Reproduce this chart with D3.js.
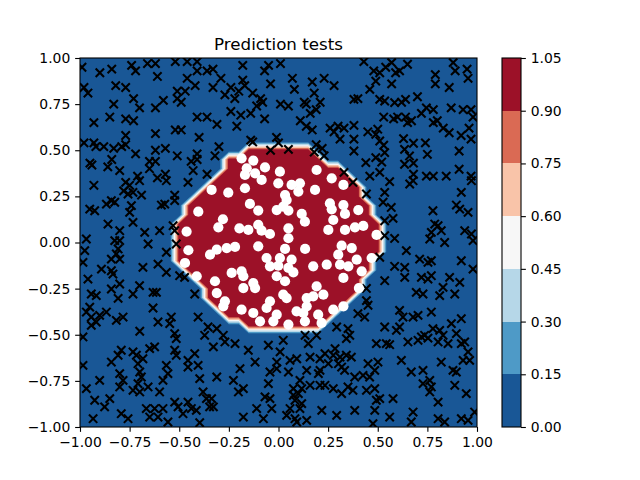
<!DOCTYPE html>
<html>
<head>
<meta charset="utf-8">
<script src="https://cdn.jsdelivr.net/npm/d3@7"></script>
<style>
  body { margin: 0; background: #fff; }
  text { font-family: "DejaVu Sans", sans-serif; }
</style>
</head>
<body>
<div id="chart"></div>
<script>
// contour levels and colorbar ticks
var levels = [0, 0.15, 0.3, 0.45, 0.6, 0.75, 0.9, 1.05];
var axisTicks = [-1, -0.75, -0.5, -0.25, 0, 0.25, 0.5, 0.75, 1];

// outline of the predicted class-1 region
var boundary = [
  [-0.17, 0.51], [0.16, 0.51], [0.19, 0.475], [0.24, 0.45], [0.32, 0.395], [0.39, 0.34],
  [0.42, 0.285], [0.46, 0.23], [0.485, 0.176], [0.51, 0.12], [0.51, -0.07], [0.495, -0.11],
  [0.46, -0.15], [0.445, -0.18], [0.41, -0.236], [0.385, -0.29], [0.345, -0.344],
  [0.295, -0.393], [0.244, -0.436], [0.144, -0.474], [0.13, -0.49], [-0.14, -0.49],
  [-0.144, -0.474], [-0.21, -0.436], [-0.26, -0.393], [-0.31, -0.344], [-0.36, -0.29],
  [-0.41, -0.236], [-0.446, -0.182], [-0.481, -0.149], [-0.506, -0.111], [-0.506, 0.12],
  [-0.471, 0.176], [-0.446, 0.23], [-0.395, 0.285], [-0.345, 0.34], [-0.295, 0.393],
  [-0.254, 0.447], [-0.219, 0.474]
];

// test points predicted as class 0 (drawn as x)
var crosses = [
  [-0.99,0.95],[-0.90,0.92],[-0.84,0.94],[-0.74,0.96],[-0.72,0.93],[-0.66,0.97],[-0.62,0.97],[-0.61,0.90],
  [-0.52,0.98],[-0.46,0.98],[-0.41,0.98],[-0.41,0.93],[-0.36,0.93],[-0.46,0.89],[-0.42,0.85],[-0.98,0.84],
  [-0.96,0.81],[-0.82,0.85],[-0.77,0.84],[-0.51,0.82],[-0.47,0.82],[-0.51,0.78],[-0.49,0.76],[-0.83,0.75],
  [-0.73,0.78],[-0.70,0.73],[-0.62,0.73],[-0.58,0.77],[-0.93,0.65],[-0.85,0.68],[-0.77,0.67],[-0.73,0.66],
  [-0.41,0.68],[-0.36,0.68],[-0.52,0.61],[-0.49,0.61],[-0.62,0.59],[-0.77,0.58],[-0.40,0.57],[-0.98,0.54],
  [-0.93,0.54],[-0.92,0.52],[-0.88,0.52],[-0.83,0.51],[-0.79,0.52],[-0.77,0.53],[-0.72,0.48],[-0.62,0.50],
  [-0.57,0.51],[-0.51,0.47],[-0.41,0.48],[-0.84,0.45],[-0.95,0.43],[-0.94,0.42],[-0.65,0.44],[-0.62,0.44],
  [-0.44,0.44],[-0.41,0.45],[-0.86,0.41],[-0.80,0.39],[-0.65,0.40],[-0.43,0.39],[-0.36,0.37],[-0.71,0.36],
  [-0.61,0.35],[-0.57,0.37],
  [-0.33,0.94],[-0.29,0.89],[-0.33,0.84],[-0.18,0.96],[-0.07,0.93],[-0.05,0.96],[0.01,0.97],[0.07,0.89],
  [0.17,0.87],[0.23,0.89],[0.28,0.85],[0.08,0.83],[-0.04,0.86],[-0.18,0.88],[-0.17,0.85],[-0.24,0.84],
  [-0.20,0.82],[-0.27,0.80],[-0.22,0.78],[-0.13,0.81],[-0.09,0.78],[-0.08,0.76],[-0.11,0.74],[-0.14,0.70],
  [-0.24,0.71],[-0.19,0.69],[0.01,0.75],[0.05,0.74],[0.13,0.76],[0.14,0.75],[0.18,0.81],[0.21,0.76],
  [0.16,0.70],[0.19,0.72],[0.11,0.66],[0.14,0.63],[0.17,0.61],[-0.07,0.67],[-0.21,0.63],[-0.31,0.64],
  [0.26,0.62],[0.28,0.60],[0.30,0.63],[0.31,0.56],[-0.30,0.52],[-0.32,0.47],[-0.14,0.555],[-0.13,0.545],
  [-0.01,0.57],[0.0,0.54],[-0.04,0.50],[0.05,0.505],[0.19,0.53],[0.22,0.51],[0.18,0.49],[0.23,0.47],
  [0.33,0.38],
  [0.43,0.98],[0.48,0.93],[0.51,0.92],[0.54,0.95],[0.57,0.975],[0.59,0.92],[0.61,0.93],[0.65,0.966],
  [0.79,0.91],[0.79,0.86],[0.86,0.84],[0.88,0.975],[0.89,0.93],[0.95,0.94],[0.955,0.89],[0.49,0.875],
  [0.46,0.83],[0.57,0.86],[0.70,0.79],[0.38,0.776],[0.40,0.78],[0.51,0.776],[0.535,0.767],[0.585,0.758],
  [0.62,0.76],[0.64,0.776],[0.745,0.73],[0.78,0.72],[0.72,0.70],[0.87,0.73],[0.93,0.72],[0.97,0.72],
  [0.98,0.68],[0.53,0.68],[0.58,0.67],[0.60,0.68],[0.64,0.68],[0.65,0.65],[0.67,0.66],[0.78,0.65],
  [0.80,0.66],[0.83,0.62],[0.86,0.595],[0.92,0.58],[0.96,0.62],[0.97,0.56],[0.33,0.62],[0.38,0.635],
  [0.38,0.56],[0.45,0.60],[0.50,0.614],[0.49,0.586],[0.51,0.55],[0.53,0.527],[0.63,0.563],[0.68,0.538],
  [0.74,0.54],[0.38,0.496],[0.535,0.487],[0.635,0.505],[0.66,0.469],[0.75,0.478],[0.91,0.496],[0.49,0.46],
  [0.52,0.436],[0.44,0.433],[0.635,0.424],[0.68,0.43],[0.91,0.397],[0.51,0.38],[0.46,0.36],[0.68,0.37],
  [0.745,0.36],[0.78,0.36],[0.845,0.36],[0.97,0.36],
  [-0.93,0.31],[-0.77,0.326],[-0.75,0.31],[-0.70,0.335],[-0.565,0.335],[-0.456,0.326],[-0.78,0.28],
  [-0.758,0.263],[-0.733,0.272],[-0.69,0.257],[-0.523,0.257],[-0.523,0.227],[-0.842,0.227],[-0.825,0.218],
  [-0.867,0.208],[-0.951,0.181],[-0.926,0.172],[-0.741,0.2],[-0.75,0.163],[-0.59,0.203],[-0.573,0.208],
  [-0.733,0.109],[-0.859,0.1],[-0.80,0.064],[-0.674,0.055],[-0.599,0.064],[-0.531,0.091],[-0.523,0.064],
  [-0.968,0.019],[-0.825,0.01],[-0.80,0.01],[-0.657,-0.008],[-0.515,-0.008],[-0.976,-0.044],[-0.808,-0.035],
  [-0.817,-0.062],[-0.842,-0.09],[-0.80,-0.09],[-0.565,-0.053],[-0.985,-0.108],[-0.892,-0.144],
  [-0.842,-0.153],[-0.834,-0.171],[-0.683,-0.135],[-0.607,-0.117],[-0.565,-0.162],[-0.498,-0.18],
  [-0.473,-0.189],[-0.96,-0.198],[-0.842,-0.252],[-0.80,-0.225],[-0.70,-0.234],[-0.943,-0.279],
  [-0.918,-0.288],[-0.808,-0.303],[-0.733,-0.279],[-0.632,-0.27],[-0.615,-0.27],[-0.422,-0.279],
  [0.375,0.326],[0.56,0.33],[0.661,0.317],[0.678,0.335],[0.972,0.335],[0.443,0.263],[0.535,0.272],
  [0.527,0.218],[0.568,0.19],[0.921,0.272],[0.896,0.203],[0.913,0.181],[0.955,0.163],[0.778,0.172],
  [0.535,0.118],[0.577,0.131],[0.787,0.10],[0.804,0.091],[0.77,0.055],[0.82,0.064],[0.762,0.019],
  [0.938,0.064],[0.972,0.046],[0.98,0.01],[0.535,0.037],[0.585,0.022],[0.837,0.0],[0.644,-0.044],
  [0.51,-0.08],[0.711,-0.09],[0.753,-0.108],[0.77,-0.099],[0.921,-0.099],[0.98,-0.144],[0.585,-0.129],
  [0.636,-0.135],[0.636,-0.189],[0.535,-0.207],[0.72,-0.189],[0.753,-0.198],[0.77,-0.18],[0.862,-0.189],
  [0.913,-0.216],[0.829,-0.243],[0.443,-0.249],[0.694,-0.27],[0.728,-0.279],[0.812,-0.288],[0.888,-0.279],
  [0.443,-0.315],
  [-0.951,-0.35],[-0.968,-0.377],[-0.943,-0.404],[-0.901,-0.395],[-0.918,-0.431],[-0.943,-0.449],
  [-0.867,-0.377],[-0.817,-0.422],[-0.783,-0.404],[-0.632,-0.355],[-0.607,-0.431],[-0.54,-0.404],
  [-0.548,-0.44],[-0.405,-0.404],[-0.355,-0.458],[-0.372,-0.503],[-0.699,-0.481],[-0.523,-0.494],
  [-0.515,-0.521],[-0.985,-0.512],[-0.792,-0.584],[-0.808,-0.611],[-0.842,-0.648],[-0.733,-0.593],
  [-0.716,-0.611],[-0.683,-0.63],[-0.649,-0.575],[-0.624,-0.566],[-0.523,-0.584],[-0.515,-0.611],
  [-0.422,-0.602],[-0.456,-0.639],[-0.456,-0.675],[-0.405,-0.666],[-0.397,-0.738],[-0.708,-0.657],
  [-0.565,-0.666],[-0.985,-0.666],[-0.80,-0.711],[-0.699,-0.702],[-0.691,-0.729],[-0.783,-0.747],
  [-0.80,-0.783],[-0.708,-0.765],[-0.557,-0.711],[-0.582,-0.747],[-0.901,-0.747],[-0.968,-0.792],
  [-0.733,-0.801],[-0.699,-0.81],[-0.657,-0.783],[-0.599,-0.81],[-0.38,-0.81],[-0.363,-0.846],
  [-0.926,-0.855],[-0.85,-0.846],[-0.876,-0.891],[-0.523,-0.865],[-0.456,-0.865],[-0.506,-0.891],
  [-0.481,-0.928],[-0.439,-0.9],[-0.414,-0.91],[-0.347,-0.891],[-0.666,-0.9],[-0.624,-0.9],[-0.582,-0.9],
  [-0.649,-0.946],[-0.607,-0.946],[-0.792,-0.928],[-0.758,-0.955],[-0.934,-0.955],[-0.557,-0.973],
  [-0.397,-0.977],
  [-0.311,-0.467],[-0.278,-0.503],[-0.27,-0.539],[-0.219,-0.548],[-0.328,-0.566],[-0.152,-0.584],
  [-0.118,-0.648],[-0.051,-0.557],[0.008,-0.593],[0.024,-0.53],[0.134,-0.503],[0.15,-0.548],[0.192,-0.503],
  [0.293,-0.458],[0.285,-0.575],[0.31,-0.621],[-0.009,-0.648],[0.058,-0.639],[0.092,-0.63],[0.159,-0.621],
  [0.209,-0.63],[0.234,-0.602],[0.251,-0.657],[0.276,-0.611],[0.302,-0.657],[0.318,-0.675],[-0.194,-0.684],
  [-0.043,-0.702],[-0.009,-0.684],[0.05,-0.702],[0.142,-0.693],[0.201,-0.711],[0.209,-0.693],[-0.311,-0.729],
  [-0.227,-0.747],[-0.051,-0.765],[0.108,-0.747],[0.075,-0.792],[0.117,-0.792],[0.10,-0.819],[0.159,-0.774],
  [0.209,-0.774],[0.234,-0.774],[0.276,-0.792],[0.318,-0.819],[-0.177,-0.792],[-0.202,-0.81],[-0.068,-0.837],
  [-0.043,-0.846],[0.075,-0.828],[0.083,-0.855],[0.117,-0.873],[-0.337,-0.846],[-0.328,-0.891],[-0.11,-0.9],
  [-0.034,-0.9],[0.058,-0.9],[0.108,-0.9],[0.218,-0.91],[-0.177,-0.946],[-0.076,-0.955],[0.041,-0.937],
  [0.083,-0.955],[0.092,-0.973],[0.142,-0.964],[0.293,-0.937],
  [0.451,-0.34],[0.40,-0.386],[0.434,-0.404],[0.61,-0.368],[0.627,-0.404],[0.678,-0.404],[0.703,-0.395],
  [0.77,-0.377],[0.535,-0.458],[0.594,-0.476],[0.61,-0.458],[0.35,-0.467],[0.359,-0.503],[0.342,-0.521],
  [0.493,-0.548],[0.543,-0.548],[0.56,-0.554],[0.652,-0.539],[0.703,-0.53],[0.72,-0.512],[0.736,-0.503],
  [0.753,-0.518],[0.778,-0.467],[0.812,-0.476],[0.829,-0.503],[0.804,-0.539],[0.854,-0.548],[0.871,-0.44],
  [0.896,-0.494],[0.921,-0.413],[0.921,-0.548],[0.938,-0.539],[0.955,-0.593],[0.93,-0.639],[0.963,-0.639],
  [0.342,-0.611],[0.367,-0.621],[0.451,-0.657],[0.501,-0.648],[0.619,-0.639],[0.82,-0.648],[0.485,-0.693],
  [0.333,-0.693],[0.384,-0.729],[0.426,-0.72],[0.459,-0.729],[0.669,-0.702],[0.728,-0.693],[0.879,-0.693],
  [0.896,-0.702],[0.888,-0.774],[0.946,-0.819],[0.762,-0.747],[0.77,-0.783],[0.728,-0.765],[0.35,-0.783],
  [0.375,-0.801],[0.443,-0.801],[0.485,-0.792],[0.493,-0.855],[0.51,-0.846],[0.577,-0.846],[0.804,-0.865],
  [0.762,-0.81],[0.384,-0.91],[0.485,-0.91],[0.678,-0.919],[0.669,-0.973],[0.56,-0.946],[0.804,-0.955],
  [0.837,-0.973],[0.921,-0.955],[0.955,-0.964],[0.988,-0.919],[0.476,-0.982]
];

// test points predicted as class 1 (drawn as white dots)
var circles = [
  [-0.186,0.456],[-0.127,0.444],[-0.068,0.407],[-0.16,0.402],[-0.169,0.366],[-0.118,0.375],[-0.085,0.339],
  [0.007,0.384],[-0.001,0.321],[0.066,0.312],[0.108,0.321],[0.10,0.276],[0.033,0.257],[0.041,0.23],
  [0.192,0.393],[0.268,0.348],[0.327,0.312],[0.184,0.285],[-0.253,0.27],[-0.337,0.285],[-0.169,0.294],
  [-0.144,0.209],[-0.102,0.173],[-0.009,0.176],[0.024,0.194],[0.05,0.173],[0.117,0.155],[0.133,0.113],
  [0.259,0.212],[0.268,0.18],[0.327,0.203],[0.335,0.155],[0.402,0.176],[0.276,0.122],[0.385,0.082],
  [-0.28,0.126],[-0.303,0.082],[-0.197,0.077],[-0.152,0.068],[-0.102,0.095],[-0.085,0.064],[-0.043,0.046],
  [0.05,0.077],[0.05,0.023],[0.251,0.068],[0.335,0.068],[0.427,0.09],[-0.404,0.167],[-0.463,0.059],
  [0.494,0.041],
  [-0.454,-0.042],[-0.345,-0.066],[-0.311,-0.039],[-0.261,-0.03],[-0.219,-0.024],[-0.102,-0.021],
  [0.033,-0.035],[0.134,-0.035],[0.318,-0.017],[0.369,-0.03],[0.301,-0.066],[0.394,-0.093],[0.469,-0.084],
  [0.175,-0.129],[0.243,-0.12],[0.31,-0.12],[0.352,-0.129],[0.419,-0.156],[-0.471,-0.111],[-0.412,-0.183],
  [-0.32,-0.21],[-0.236,-0.165],[-0.186,-0.156],[-0.177,-0.183],[-0.06,-0.084],[0.007,-0.084],
  [0.066,-0.093],[-0.043,-0.129],[-0.001,-0.126],[0.05,-0.138],[0.075,-0.162],[-0.009,-0.183],
  [0.033,-0.21],[-0.177,-0.247],[-0.127,-0.22],[-0.118,-0.247],[-0.311,-0.274],[-0.27,-0.319],
  [-0.278,-0.346],[-0.186,-0.364],[-0.127,-0.382],[-0.093,-0.427],[-0.043,-0.319],[0.024,-0.283],
  [0.041,-0.301],[-0.06,-0.355],[-0.009,-0.391],[-0.026,-0.427],[0.05,-0.445],[0.091,-0.373],
  [0.142,-0.346],[0.142,-0.301],[0.192,-0.238],[0.226,-0.283],[0.175,-0.292],[0.125,-0.382],[0.20,-0.391],
  [0.133,-0.427],[0.217,-0.436],[0.276,-0.364],[0.327,-0.346],[0.327,-0.192],[0.405,-0.247]
];

// RdBu_r sampled at the band midpoints
var bandColors = ["#195796", "#4e9ac7", "#b6d7e8", "#f7f7f7", "#f9c4a9", "#da6a54", "#9c1128"];

var width = 640, height = 480;
var plot = { left: 80, right: 477, top: 58, bottom: 427 };
var bar = { left: 502, right: 521 };

var svg = d3.select('#chart').append('svg')
  .attr('width', width)
  .attr('height', height)
  .style('background', '#fff');

var x = d3.scaleLinear().domain([-1, 1]).range([plot.left, plot.right]);
var y = d3.scaleLinear().domain([-1, 1]).range([plot.bottom, plot.top]);

// prediction grid built from the boundary outline
var step = 0.05, n = 41;
var grid = new Array(n * n);
for (var j = 0; j < n; j++) {
  for (var i = 0; i < n; i++) {
    grid[j * n + i] = d3.polygonContains(boundary, [-1 + i * step, -1 + j * step]) ? 1 : 0;
  }
}

var contours = d3.contours().size([n, n]).thresholds(levels.slice(0, levels.length - 1))(grid);

var toPlot = d3.geoTransform({
  point: function (gx, gy) {
    this.stream.point(x(-1 + (gx - 0.5) * step), y(-1 + (gy - 0.5) * step));
  }
});
var path = d3.geoPath(toPlot);

svg.append('clipPath').attr('id', 'plot-clip')
  .append('rect')
  .attr('x', plot.left).attr('y', plot.top)
  .attr('width', plot.right - plot.left).attr('height', plot.bottom - plot.top);

var field = svg.append('g').attr('clip-path', 'url(#plot-clip)');
field.append('rect')
  .attr('x', plot.left).attr('y', plot.top)
  .attr('width', plot.right - plot.left).attr('height', plot.bottom - plot.top)
  .attr('fill', bandColors[0]);

field.selectAll('path.band')
  .data(contours)
  .enter().append('path')
    .attr('class', 'band')
    .attr('d', path)
    .attr('fill', function (d, k) { return bandColors[k]; });

// markers
var half = 4.17;
field.selectAll('path.cross')
  .data(crosses)
  .enter().append('path')
    .attr('class', 'cross')
    .attr('transform', function (d) { return 'translate(' + x(d[0]) + ',' + y(d[1]) + ')'; })
    .attr('d', 'M' + (-half) + ',' + (-half) + 'L' + half + ',' + half + 'M' + (-half) + ',' + half + 'L' + half + ',' + (-half))
    .attr('stroke', '#000')
    .attr('stroke-width', 2.08)
    .attr('fill', 'none');

field.selectAll('circle.dot')
  .data(circles)
  .enter().append('circle')
    .attr('class', 'dot')
    .attr('cx', function (d) { return x(d[0]); })
    .attr('cy', function (d) { return y(d[1]); })
    .attr('r', 5.1)
    .attr('fill', '#fff');

// axes
var fmt = d3.format('.2f');
var tickLen = 4.86, tickPad = 4.86, fontSize = '13.9px';

var xAxis = svg.append('g')
  .attr('transform', 'translate(0,' + plot.bottom + ')')
  .call(d3.axisBottom(x).tickValues(axisTicks).tickFormat(fmt).tickSizeInner(tickLen).tickSizeOuter(0).tickPadding(tickPad));
var yAxis = svg.append('g')
  .attr('transform', 'translate(' + plot.left + ',0)')
  .call(d3.axisLeft(y).tickValues(axisTicks).tickFormat(fmt).tickSizeInner(tickLen).tickSizeOuter(0).tickPadding(tickPad));

[xAxis, yAxis].forEach(function (g) {
  g.select('.domain').remove();
  g.selectAll('line').attr('stroke', '#000').attr('stroke-width', 1.1);
  g.selectAll('text').attr('fill', '#000').style('font-size', fontSize).style('font-family', '"DejaVu Sans", sans-serif');
});

svg.append('rect')
  .attr('x', plot.left).attr('y', plot.top)
  .attr('width', plot.right - plot.left).attr('height', plot.bottom - plot.top)
  .attr('fill', 'none').attr('stroke', '#000').attr('stroke-width', 1.1);

// title
svg.append('text')
  .attr('x', (plot.left + plot.right) / 2)
  .attr('y', plot.top - 8.5)
  .attr('text-anchor', 'middle')
  .style('font-size', '16.7px')
  .attr('fill', '#000')
  .text('Prediction tests');

// colorbar
var cb = d3.scaleLinear().domain([levels[0], levels[levels.length - 1]]).range([plot.bottom, plot.top]);
svg.selectAll('rect.cb')
  .data(bandColors)
  .enter().append('rect')
    .attr('class', 'cb')
    .attr('x', bar.left)
    .attr('width', bar.right - bar.left)
    .attr('y', function (d, k) { return cb(levels[k + 1]); })
    .attr('height', function (d, k) { return cb(levels[k]) - cb(levels[k + 1]); })
    .attr('fill', function (d) { return d; })
    .attr('shape-rendering', 'crispEdges');

var cbAxis = svg.append('g')
  .attr('transform', 'translate(' + bar.right + ',0)')
  .call(d3.axisRight(cb).tickValues(levels).tickFormat(fmt).tickSizeInner(tickLen).tickSizeOuter(0).tickPadding(tickPad));
cbAxis.select('.domain').remove();
cbAxis.selectAll('line').attr('stroke', '#000').attr('stroke-width', 1.1);
cbAxis.selectAll('text').attr('fill', '#000').style('font-size', fontSize).style('font-family', '"DejaVu Sans", sans-serif');

svg.append('rect')
  .attr('x', bar.left).attr('y', plot.top)
  .attr('width', bar.right - bar.left).attr('height', plot.bottom - plot.top)
  .attr('fill', 'none').attr('stroke', '#000').attr('stroke-width', 1.1);
</script>
</body>
</html>
